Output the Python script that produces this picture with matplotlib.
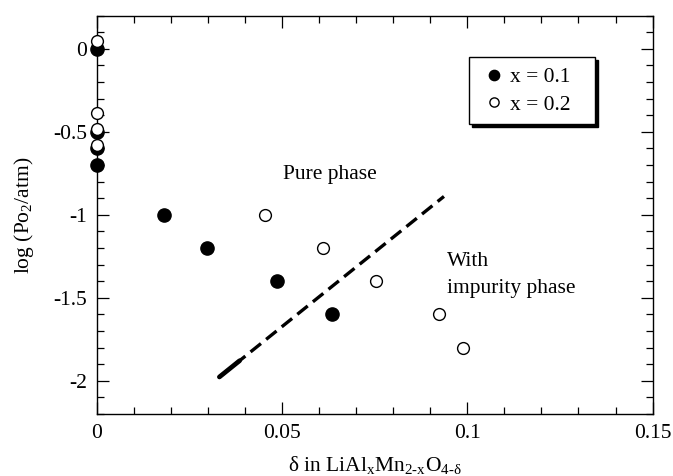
import matplotlib
matplotlib.use("Agg")
import matplotlib.pyplot as plt
from matplotlib.ticker import MultipleLocator, FuncFormatter
import numpy as np

plt.rcParams['font.family'] = ['Liberation Serif', 'DejaVu Serif']
plt.rcParams['mathtext.fontset'] = 'custom'
plt.rcParams['mathtext.rm'] = 'Liberation Serif'
plt.rcParams['mathtext.it'] = 'Liberation Serif:italic'
plt.rcParams['axes.unicode_minus'] = False

FS = 15.5

# data
delta_x01 = [0, 0, 0, 0, 0.0182, 0.0297, 0.0487, 0.0634]
logp_x01 = [0.0, -0.5, -0.6, -0.7, -1.0, -1.2, -1.4, -1.6]
delta_x02 = [0, 0, 0, 0, 0.0454, 0.0611, 0.0753, 0.0923, 0.0989]
logp_x02 = [0.045, -0.385, -0.48, -0.58, -1.0, -1.2, -1.4, -1.6, -1.8]
boundary_x = [0.0331, 0.0937]
boundary_y = [-1.977, -0.889]
labels = ["x = 0.1", "x = 0.2"]

fig = plt.figure(figsize=(6.73, 4.76), dpi=100)
ax = fig.add_axes([0.1437, 0.1303, 0.826, 0.8367])

ax.plot(delta_x01, logp_x01, 'o', color='black', markersize=9.5, markeredgewidth=1,
        clip_on=False, zorder=5, label=labels[0])
ax.plot(delta_x02, logp_x02, 'o', markerfacecolor='white', markeredgecolor='black',
        markersize=8.5, markeredgewidth=1, clip_on=False, zorder=6, label=labels[1])

ax.plot(boundary_x, boundary_y, color='black', lw=2.4, linestyle=(0, (4, 2)), zorder=3)
# thicker first segment at the lower end
t = 0.09
bx0, bx1 = boundary_x
by0, by1 = boundary_y
ax.plot([bx0, bx0 + t * (bx1 - bx0)], [by0, by0 + t * (by1 - by0)], color='black',
        lw=3.4, solid_capstyle='round', zorder=3)

ax.text(0.0504, -0.785, "Pure phase", fontsize=FS, ha='left', va='baseline')
ax.text(0.0944, -1.308, "With", fontsize=FS, ha='left', va='baseline')
ax.text(0.0944, -1.468, "impurity phase", fontsize=FS, ha='left', va='baseline')

ax.set_xlim(0, 0.15)
ax.set_ylim(-2.2, 0.2)
ax.xaxis.set_major_locator(MultipleLocator(0.05))
ax.xaxis.set_minor_locator(MultipleLocator(0.01))
ax.yaxis.set_major_locator(MultipleLocator(0.5))
ax.yaxis.set_minor_locator(MultipleLocator(0.1))
fmt = FuncFormatter(lambda v, p: f"{v:g}")
ax.xaxis.set_major_formatter(fmt)
ax.yaxis.set_major_formatter(fmt)
ax.tick_params(which='both', direction='in', top=True, right=True, width=0.9, labelsize=FS)
ax.tick_params(which='major', length=8.4)
ax.tick_params(which='minor', length=4.8)
ax.tick_params(axis='x', pad=7)
ax.tick_params(axis='y', pad=7)
for s in ax.spines.values():
    s.set_linewidth(1.0)

ax.set_xlabel(r"δ in LiAl$_\mathrm{x}$Mn$_\mathrm{2\text{-}x}$O$_\mathrm{4\text{-}δ}$", fontsize=FS, labelpad=8)
ax.set_ylabel(r"log (Po$_\mathrm{2}$/atm)", fontsize=FS, labelpad=12)

leg = ax.legend(loc='upper left', bbox_to_anchor=(0.670, 0.730, 0.2264, 0.1655),
                mode='expand', borderaxespad=0,
                frameon=True, fancybox=False, edgecolor='black', fontsize=FS,
                shadow={'color': 'black', 'alpha': 1.0}, handletextpad=0.05,
                handlelength=1.4, borderpad=0.45, labelspacing=0.35, framealpha=1,
                markerscale=0.78)
leg.get_frame().set_linewidth(1.0)

fig.savefig("out.png", dpi=100)
